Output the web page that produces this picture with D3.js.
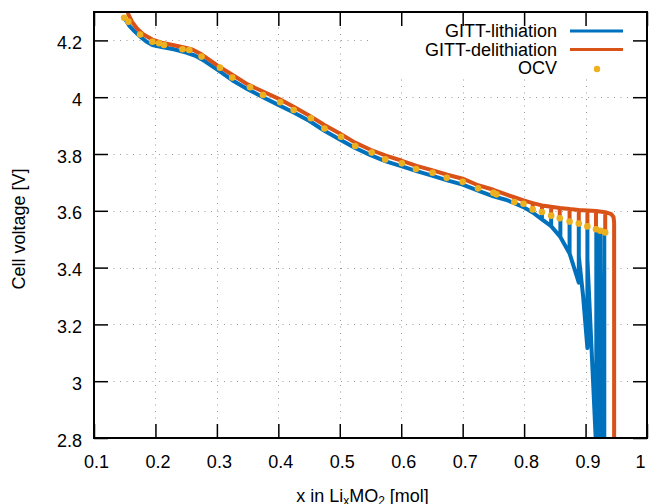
<!DOCTYPE html>
<html>
<head>
<meta charset="utf-8">
<script src="https://cdn.jsdelivr.net/npm/d3@7"></script>
<style>
  body { margin: 0; background: #fff; }
  svg { display: block; }
  text { font-family: "Liberation Sans", Arial, Helvetica, sans-serif; }
</style>
</head>
<body>
<div id="chart"></div>
<script>
// ---- data ----
const xTicks = [0.1, 0.2, 0.3, 0.4, 0.5, 0.6, 0.7, 0.8, 0.9, 1.0];
const xTickLabels = ["0.1", "0.2", "0.3", "0.4", "0.5", "0.6", "0.7", "0.8", "0.9", "1"];
const yTicks = [2.8, 3.0, 3.2, 3.4, 3.6, 3.8, 4.0, 4.2];
const yTickLabels = ["2.8", "3", "3.2", "3.4", "3.6", "3.8", "4", "4.2"];
const seriesNames = ["GITT-lithiation", "GITT-delithiation", "OCV"];

// OCV (relaxed) points
const ocvX = [0.149, 0.156, 0.175, 0.195, 0.206, 0.214, 0.244, 0.255, 0.275, 0.305,
  0.325, 0.354, 0.375, 0.403, 0.425, 0.453, 0.475, 0.502, 0.525, 0.552,
  0.574, 0.601, 0.624, 0.651, 0.674, 0.700, 0.725, 0.750, 0.755, 0.784,
  0.799, 0.814, 0.829, 0.844, 0.858, 0.874, 0.889, 0.903, 0.917, 0.924, 0.932];
const ocvV = [4.280, 4.266, 4.221, 4.195, 4.190, 4.184, 4.169, 4.166, 4.143, 4.104,
  4.069, 4.035, 4.008, 3.982, 3.955, 3.926, 3.890, 3.861, 3.828, 3.805,
  3.781, 3.767, 3.747, 3.734, 3.716, 3.702, 3.679, 3.663, 3.658, 3.631,
  3.625, 3.605, 3.596, 3.583, 3.574, 3.562, 3.555, 3.545, 3.535, 3.530, 3.524];

// GITT lithiation trace (x increasing)
const liX = [0.150, 0.152, 0.158, 0.166, 0.175, 0.185, 0.195, 0.210, 0.230, 0.250,
  0.265, 0.280, 0.300, 0.325, 0.350, 0.375, 0.400, 0.425, 0.450, 0.475,
  0.500, 0.525, 0.550, 0.575, 0.600, 0.625, 0.650, 0.675, 0.700, 0.725,
  0.750, 0.770, 0.784, 0.784, 0.784,
  0.799, 0.799, 0.799,
  0.814, 0.814, 0.814,
  0.829, 0.829, 0.829,
  0.844, 0.844, 0.844,
  0.859, 0.859, 0.859,
  0.874, 0.874, 0.874,
  0.889, 0.889, 0.889, 0.896,
  0.903, 0.903, 0.903, 0.9165, 0.918,
  0.9175, 0.9175, 0.9178, 0.9215, 0.923,
  0.9235, 0.9235, 0.9238, 0.9275, 0.929,
  0.9305, 0.9305];
const liV = [4.282, 4.270, 4.250, 4.232, 4.214, 4.196, 4.184, 4.177, 4.169, 4.157,
  4.146, 4.127, 4.098, 4.060, 4.028, 4.000, 3.973, 3.946, 3.917, 3.882,
  3.851, 3.821, 3.796, 3.774, 3.757, 3.740, 3.724, 3.707, 3.692, 3.671,
  3.651, 3.639, 3.627, 3.631, 3.627,
  3.613, 3.625, 3.613,
  3.594, 3.605, 3.594,
  3.570, 3.596, 3.570,
  3.546, 3.583, 3.546,
  3.508, 3.574, 3.508,
  3.450, 3.562, 3.450,
  3.347, 3.555, 3.440, 3.300,
  3.117, 3.545, 3.430, 2.800, 2.500,
  2.500, 3.535, 3.400, 2.800, 2.500,
  2.500, 3.530, 3.400, 2.800, 2.500,
  2.500, 3.524];

// GITT delithiation trace (x decreasing)
const deX = [0.9465, 0.9465, 0.9455, 0.942, 0.932, 0.932, 0.932,
  0.917, 0.917, 0.917,
  0.903, 0.903, 0.903,
  0.889, 0.889, 0.889,
  0.874, 0.874, 0.874,
  0.858, 0.858, 0.858,
  0.844, 0.844, 0.844,
  0.829, 0.829, 0.829,
  0.814, 0.814, 0.814,
  0.799, 0.799, 0.799,
  0.784, 0.784, 0.784,
  0.775, 0.750, 0.725, 0.700, 0.675, 0.650, 0.625, 0.600, 0.575, 0.550,
  0.525, 0.500, 0.475, 0.450, 0.425, 0.400, 0.375, 0.350, 0.325, 0.300,
  0.275, 0.260, 0.245, 0.230, 0.210, 0.195, 0.180, 0.170, 0.162, 0.156, 0.152];
const deV = [2.500, 3.560, 3.578, 3.588, 3.595, 3.524, 3.595,
  3.599, 3.535, 3.599,
  3.601, 3.545, 3.601,
  3.603, 3.555, 3.603,
  3.606, 3.562, 3.606,
  3.610, 3.574, 3.610,
  3.614, 3.583, 3.614,
  3.619, 3.596, 3.619,
  3.627, 3.605, 3.627,
  3.637, 3.625, 3.637,
  3.648, 3.631, 3.648,
  3.654, 3.674, 3.690, 3.713, 3.727, 3.743, 3.758, 3.777, 3.794, 3.815,
  3.840, 3.872, 3.902, 3.936, 3.966, 3.995, 4.020, 4.045, 4.079, 4.113,
  4.151, 4.168, 4.176, 4.183, 4.192, 4.203, 4.222, 4.242, 4.265, 4.292, 4.320];

// ---- chart ----
(function () {
const W = 652, H = 504;
const pL = 94, pR = 647, pT = 12, pB = 438;
const BLUE = "#0072bd", RED = "#d95319", YEL = "#edb120";

const svg = d3.select("#chart").append("svg").attr("width", W).attr("height", H);

const x = d3.scaleLinear().domain([0.1, 1.0]).range([pL, pR]);
const y = d3.scaleLinear().domain([2.8, 4.3]).range([pB, pT]);

// grid
const grid = svg.append("g").attr("stroke", "#9a9a9a").attr("stroke-width", 1)
  .attr("stroke-dasharray", "1,5.5");
grid.selectAll("line.gx").data(xTicks.filter(d => d > 0.1 && d < 1.0)).enter().append("line")
  .attr("x1", d => Math.round(x(d)) + 0.5).attr("x2", d => Math.round(x(d)) + 0.5)
  .attr("y1", pB).attr("y2", pT);
grid.selectAll("line.gy").data(yTicks.filter(d => d > 2.8)).enter().append("line")
  .attr("y1", d => Math.round(y(d)) + 0.5).attr("y2", d => Math.round(y(d)) + 0.5)
  .attr("x1", pL).attr("x2", pR);

// clip
svg.append("clipPath").attr("id", "plotclip").append("rect")
  .attr("x", pL).attr("y", pT).attr("width", pR - pL).attr("height", pB - pT);

const line = d3.line().x(d => x(d[0])).y(d => y(d[1]));
const zip = (a, b) => a.map((v, i) => [v, b[i]]);

const plot = svg.append("g").attr("clip-path", "url(#plotclip)");
plot.append("path").datum(zip(liX, liV)).attr("d", line)
  .attr("fill", "none").attr("stroke", BLUE).attr("stroke-width", 4)
  .attr("stroke-linejoin", "round").attr("stroke-linecap", "round");
plot.append("path").datum(zip(deX, deV)).attr("d", line)
  .attr("fill", "none").attr("stroke", RED).attr("stroke-width", 4)
  .attr("stroke-linejoin", "round").attr("stroke-linecap", "round");
plot.selectAll("circle.ocv").data(zip(ocvX, ocvV)).enter().append("circle")
  .attr("cx", d => x(d[0])).attr("cy", d => y(d[1])).attr("r", 3.3).attr("fill", YEL);

// legend
const lg = svg.append("g");
lg.append("rect").attr("x", 372).attr("y", 17).attr("width", 268).attr("height", 62).attr("fill", "#fff");
const rowsY = [31, 49.5, 68];
seriesNames.forEach((nm, i) => {
  lg.append("text").attr("x", 557).attr("y", rowsY[i]).attr("dy", "0.35em")
    .attr("text-anchor", "end").attr("font-size", 18).attr("fill", "#000").text(nm);
});
lg.append("line").attr("x1", 570).attr("x2", 623).attr("y1", rowsY[0]).attr("y2", rowsY[0])
  .attr("stroke", BLUE).attr("stroke-width", 3);
lg.append("line").attr("x1", 570).attr("x2", 623).attr("y1", rowsY[1]).attr("y2", rowsY[1])
  .attr("stroke", RED).attr("stroke-width", 3);
lg.append("circle").attr("cx", 597).attr("cy", rowsY[2] + 1).attr("r", 3.2).attr("fill", YEL);

// axes
const tickLen = 14;
const ax = svg.append("g").attr("font-size", 18);
const xb = ax.append("g").attr("transform", `translate(0,${pB})`)
  .call(d3.axisBottom(x).tickValues(xTicks).tickSizeInner(-tickLen).tickSizeOuter(0).tickPadding(17)
    .tickFormat((d, i) => xTickLabels[i]));
xb.selectAll("text").attr("dx", (d, i) => i === xTicks.length - 1 ? -7 : 2);
ax.append("g").attr("transform", `translate(0,${pT})`)
  .call(d3.axisTop(x).tickValues(xTicks).tickSizeInner(-tickLen).tickSizeOuter(0).tickFormat(""));
const yl = ax.append("g").attr("transform", `translate(${pL},0)`)
  .call(d3.axisLeft(y).tickValues(yTicks).tickSizeInner(-tickLen).tickSizeOuter(0).tickPadding(12)
    .tickFormat((d, i) => yTickLabels[i]));
yl.selectAll("text").attr("dy", "0.45em");
ax.append("g").attr("transform", `translate(${pR},0)`)
  .call(d3.axisRight(y).tickValues(yTicks).tickSizeInner(-tickLen).tickSizeOuter(0).tickFormat(""));
ax.selectAll(".domain").remove();
ax.selectAll(".tick line").attr("stroke", "#000").attr("stroke-width", 1.5);
ax.selectAll(".tick text").attr("fill", "#000").attr("font-family", "Liberation Sans, Arial, sans-serif")
  .attr("font-size", 18);

// frame
svg.append("rect").attr("x", pL).attr("y", pT).attr("width", pR - pL).attr("height", pB - pT)
  .attr("fill", "none").attr("stroke", "#000").attr("stroke-width", 2);

// axis titles
const xt = svg.append("text").attr("x", 362.5).attr("y", 502).attr("text-anchor", "middle")
  .attr("font-size", 18).attr("fill", "#000");
xt.append("tspan").text("x in Li");
xt.append("tspan").attr("font-size", 12).attr("dy", 3).text("x");
xt.append("tspan").attr("dy", -3).text("MO");
xt.append("tspan").attr("font-size", 12).attr("dy", 3).text("2");
xt.append("tspan").attr("dy", -3).text(" [mol]");

svg.append("text").attr("transform", `translate(25,${(pT + pB) / 2 + 4}) rotate(-90)`)
  .attr("text-anchor", "middle").attr("font-size", 18).attr("fill", "#000").text("Cell voltage [V]");
})();
</script>
</body>
</html>
